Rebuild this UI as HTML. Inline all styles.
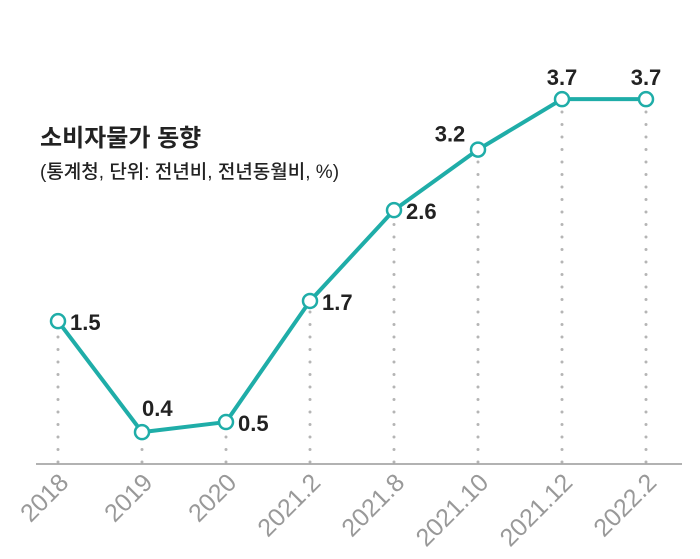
<!DOCTYPE html>
<html><head><meta charset="utf-8">
<style>
html,body{margin:0;padding:0;background:#fff;}
svg{display:block;}
</style></head>
<body>
<svg width="700" height="559" viewBox="0 0 700 559" xmlns="http://www.w3.org/2000/svg">
<text x="40" y="146" font-family="'Liberation Sans','Noto Sans CJK KR',sans-serif" font-size="24" font-weight="bold" fill="#222">소비자물가 동향</text>
<text x="40" y="178" font-family="'Liberation Sans','Noto Sans CJK KR',sans-serif" font-size="19" font-weight="500" fill="#222">(통계청, 단위: 전년비, 전년동월비, %)</text>
<line x1="36" y1="464" x2="682" y2="464" stroke="#999" stroke-width="1.5"/>
<g id="grid"></g>
<g id="xlabels"></g>
<polyline id="line" fill="none" stroke="#1fada8" stroke-width="4" stroke-linejoin="round"/>
<g id="points"></g>
<g id="vlabels"></g>
</svg>
<script>
const categories=["2018","2019","2020","2021.2","2021.8","2021.10","2021.12","2022.2"];
const values=[1.5,0.4,0.5,1.7,2.6,3.2,3.7,3.7];
const valueLabels=["1.5","0.4","0.5","1.7","2.6","3.2","3.7","3.7"];
const NS="http://www.w3.org/2000/svg";
function xScale(i){return 58+i*84;}
function yScale(v){return 472.5-v*100.9;}
const grid=document.getElementById('grid'),xl=document.getElementById('xlabels'),pts=document.getElementById('points'),vl=document.getElementById('vlabels');
let pstr=[];
categories.forEach((c,i)=>{
  const x=xScale(i),y=yScale(values[i]);
  pstr.push(x+","+y);
  const g=document.createElementNS(NS,'line');
  g.setAttribute('x1',x);g.setAttribute('x2',x);g.setAttribute('y1',462);g.setAttribute('y2',y+8);
  g.setAttribute('stroke','#b5b5b5');g.setAttribute('stroke-width','3');g.setAttribute('stroke-dasharray','0 12.5');g.setAttribute('stroke-linecap','round');
  
  
  grid.appendChild(g);
  const t=document.createElementNS(NS,'text');
  t.setAttribute('x',x+12);t.setAttribute('y',484);
  t.setAttribute('transform','rotate(-45 '+(x+12)+' 484)');
  t.setAttribute('text-anchor','end');t.setAttribute('font-family','Liberation Sans, sans-serif');
  t.setAttribute('font-size','25');t.setAttribute('fill','#999');
  t.textContent=c;
  
  
  xl.appendChild(t);
});
document.getElementById('line').setAttribute('points',pstr.join(' '));
categories.forEach((c,i)=>{
  const x=xScale(i),y=yScale(values[i]);
  const p=document.createElementNS(NS,'circle');
  p.setAttribute('cx',x);p.setAttribute('cy',y);p.setAttribute('r','7');
  p.setAttribute('fill','#fff');p.setAttribute('stroke','#1fada8');p.setAttribute('stroke-width','2.5');
  
  
  pts.appendChild(p);
  const t=document.createElementNS(NS,'text');
  let tx,ty,anchor='start';
  if(i>=5){tx=x;ty=y-14;anchor='middle';}
  else{tx=x+12;ty=y+9;}
  if(i===5){tx=x-28;ty=y-8;}
  if(i===1){tx=x;ty=y-16;}
  t.setAttribute('x',tx);t.setAttribute('y',ty);t.setAttribute('text-anchor',anchor);
  t.setAttribute('font-family','Liberation Sans, sans-serif');t.setAttribute('font-size','22');
  t.setAttribute('font-weight','bold');t.setAttribute('fill','#222');
  t.textContent=valueLabels[i];
  
  
  vl.appendChild(t);
});
</script>
</body></html>
